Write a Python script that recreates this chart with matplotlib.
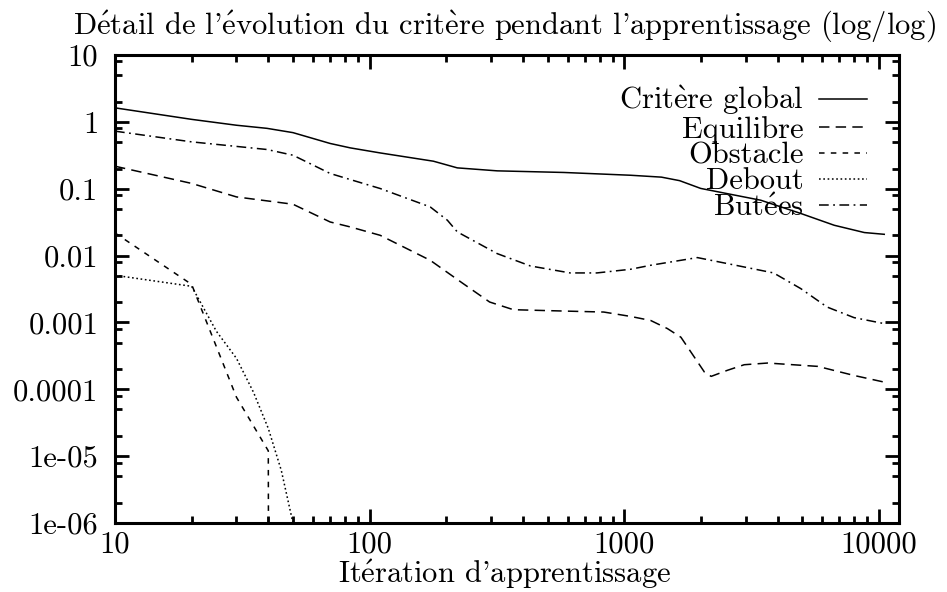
import matplotlib
matplotlib.use("Agg")
import matplotlib.pyplot as plt
from matplotlib import ticker

plt.rcParams["font.family"] = ["cmr10", "DejaVu Serif"]
plt.rcParams["mathtext.fontset"] = "cm"
plt.rcParams["font.size"] = 22
plt.rcParams["lines.scale_dashes"] = False
plt.rcParams["axes.unicode_minus"] = False

# values (iteration, criterion)
iters_global = [10, 20, 30, 39.5, 50, 70, 84, 110, 178, 221, 317, 579, 1059,
                1400, 1650, 1997, 3436, 4940, 6680, 8770, 10500]
crit_global = [1.62, 1.09, 0.89, 0.80, 0.69, 0.475, 0.408, 0.343, 0.258, 0.205,
               0.185, 0.175, 0.159, 0.149, 0.132, 0.101, 0.0673, 0.0426,
               0.0284, 0.0221, 0.0208]

iters_equil = [10, 20, 30, 50, 70, 84, 110, 173, 233, 296, 367, 579, 831, 1059,
               1270, 1477, 1670, 1885, 2065, 2195, 2540, 2960, 3660, 5760,
               7990, 10500]
crit_equil = [0.217, 0.12, 0.0754, 0.0586, 0.0318, 0.0268, 0.0201, 0.0085,
              0.00381, 0.00202, 0.00155, 0.00148, 0.00143, 0.00123, 0.00107,
              0.00081, 0.0006, 0.000303, 0.000181, 0.000156, 0.000192,
              0.000233, 0.000247, 0.00022, 0.000161, 0.000128]

iters_obst = [10, 20, 30, 40, 40.2]
crit_obst = [0.0218, 0.0037, 7.6e-5, 1.2e-5, 1e-9]

iters_debout = [10, 20, 25, 30, 35, 40, 45, 50]
crit_debout = [0.00507, 0.00347, 7.4e-4, 2.9e-4, 9.0e-5, 2.6e-5, 6.1e-6, 1e-6]

iters_butees = [10, 20, 39.5, 50, 70, 84, 110, 173, 202, 221, 317, 428, 613,
                781, 1059, 1270, 1938, 2540, 3860, 4940, 6260, 7990, 10500]
crit_butees = [0.726, 0.502, 0.386, 0.317, 0.169, 0.137, 0.1007, 0.0534,
               0.0338, 0.0226, 0.0107, 0.00699, 0.0055, 0.0055, 0.00624,
               0.00716, 0.00933, 0.00759, 0.0055, 0.0032, 0.0017, 0.00118,
               0.00096]

xticks = [10, 100, 1000, 10000]
xtick_labels = ["10", "100", "1000", "10000"]
yticks = [1e-6, 1e-5, 1e-4, 1e-3, 1e-2, 1e-1, 1, 10]
ytick_labels = ["1e-06", "1e-05", "0.0001", "0.001", "0.01", "0.1", "1", "10"]

# accented letters through mathtext so they stay in Computer Modern
E_AIGU = r"$\mathrm{\'e}$"
E_GRAVE = r"$\mathrm{\`e}$"

fig = plt.figure(figsize=(9.47, 5.92), dpi=100)
ax = fig.add_axes([115 / 947, 1 - 523 / 592, 784 / 947, 468 / 592])

lw = 1.1
ax.plot(iters_global, crit_global, color="black", lw=lw,
        label="Crit" + E_GRAVE + "re global")
ax.plot(iters_equil, crit_equil, color="black", lw=lw, dashes=(7.5, 4.5),
        label="Equilibre")
ax.plot(iters_obst, crit_obst, color="black", lw=lw, dashes=(4, 4.5),
        label="Obstacle")
ax.plot(iters_debout, crit_debout, color="black", lw=lw, dashes=(1.2, 1.9),
        label="Debout")
ax.plot(iters_butees, crit_butees, color="black", lw=lw,
        dashes=(7, 3.2, 1.3, 3.2), label="But" + E_AIGU + "es")

ax.set_xscale("log")
ax.set_yscale("log")
ax.set_xlim(10, 12000)
ax.set_ylim(1e-6, 10)

ax.xaxis.set_major_locator(ticker.FixedLocator(xticks))
ax.xaxis.set_major_formatter(ticker.FixedFormatter(xtick_labels))
ax.xaxis.set_minor_locator(ticker.LogLocator(base=10, subs=range(2, 10)))
ax.xaxis.set_minor_formatter(ticker.NullFormatter())
ax.yaxis.set_major_locator(ticker.FixedLocator(yticks))
ax.yaxis.set_major_formatter(ticker.FixedFormatter(ytick_labels))
ax.yaxis.set_minor_locator(ticker.LogLocator(base=10, subs=(2, 5, 8)))
ax.yaxis.set_minor_formatter(ticker.NullFormatter())

for s in ax.spines.values():
    s.set_linewidth(2.2)
ax.tick_params(which="both", direction="in", top=True, right=True, width=2.0)
ax.tick_params(which="major", length=10)
ax.tick_params(which="minor", length=5)
ax.tick_params(axis="x", which="major", pad=5.5)
ax.tick_params(axis="y", which="major", pad=12)

fig.text(505 / 947, 1 - 34 / 592,
         "D" + E_AIGU + "tail de l'" + E_AIGU + "volution du crit" + E_GRAVE
         + "re pendant l'apprentissage (log/log)",
         ha="center", va="baseline")
fig.text(505 / 947, 1 - 583 / 592, "It" + E_AIGU + "ration d'apprentissage",
         ha="center", va="baseline")

ax.legend(loc="upper right", bbox_to_anchor=(866.7 / 947, 1 - 83.5 / 592),
          bbox_transform=fig.transFigure, frameon=False, markerfirst=False,
          borderpad=0, borderaxespad=0, handlelength=1.57, handletextpad=0.48,
          labelspacing=-0.05)

fig.savefig("out.png", dpi=100)
